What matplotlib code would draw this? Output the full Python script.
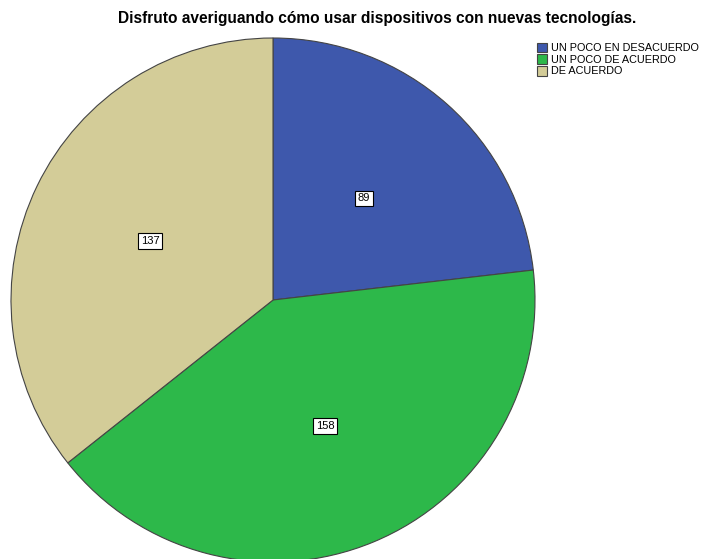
import matplotlib.pyplot as plt

# datos
categorias = ["UN POCO EN DESACUERDO", "UN POCO DE ACUERDO", "DE ACUERDO"]
valores = [89, 158, 137]
colores = ["#3E58AC", "#2DB84A", "#D3CC98"]

plt.rcParams["font.family"] = ["Liberation Sans", "DejaVu Sans"]

fig = plt.figure(figsize=(7.07, 5.59), dpi=100)
ax = fig.add_axes([11 / 707, -3 / 559, 524 / 707, 524 / 559])

wedges, textos, autotextos = ax.pie(
    valores,
    colors=colores,
    startangle=90,
    counterclock=False,
    autopct=lambda p: "%d" % round(p * sum(valores) / 100),
    pctdistance=0.52,
    wedgeprops=dict(edgecolor="#444444", linewidth=0.8),
    textprops=dict(fontsize=8),
)
for t in autotextos:
    t.set_bbox(dict(facecolor="white", edgecolor="black", linewidth=0.8, pad=2))
ax.set_xlim(-1, 1)
ax.set_ylim(-1, 1)
ax.set_aspect("equal")
for w in wedges:
    w.set_clip_on(False)

fig.text(0.533, 0.967, "Disfruto averiguando cómo usar dispositivos con nuevas tecnologías.",
         ha="center", va="center", fontsize=11.2, fontweight="bold")

fig.legend(wedges, categorias, loc="upper left", bbox_to_anchor=(529 / 707, 1 - 35 / 559),
           frameon=False, fontsize=7.8, handlelength=1.0, handleheight=1.0,
           handletextpad=0.3, labelspacing=0.1, borderpad=0.2)

fig.savefig("out.png", dpi=100)
